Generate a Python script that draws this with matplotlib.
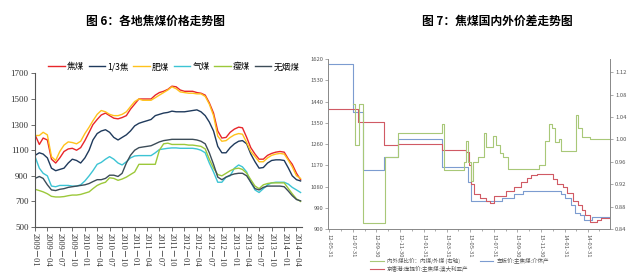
import matplotlib
matplotlib.use("Agg")
import matplotlib.pyplot as plt
import matplotlib.dates as mdates
import pandas as pd

plt.rcParams['font.family'] = ['Noto Sans CJK SC', 'DejaVu Sans']

# ---- 图6 data: monthly, 2009-01 .. 2014-05
months = pd.date_range("2009-01-01", periods=65, freq="MS")
jiaomei = [1220, 1145, 1195, 1180, 1030, 1000, 1040, 1090, 1110, 1115, 1100, 1120, 1175, 1240, 1300, 1340,
           1375, 1390, 1370, 1350, 1345, 1355, 1370, 1420, 1460, 1500, 1500, 1500, 1500, 1530, 1550, 1560,
           1575, 1600, 1595, 1570, 1560, 1560, 1560, 1550, 1545, 1530, 1470, 1390, 1250, 1195, 1200, 1240,
           1265, 1280, 1275, 1200, 1120, 1070, 1030, 1030, 1060, 1075, 1085, 1090, 1085, 1030, 990, 920, 870]
sanjiao = [1060, 1080, 1070, 1040, 960, 940, 950, 960, 1000, 1030, 1020, 1000, 1040, 1100, 1180, 1230,
           1250, 1260, 1240, 1200, 1180, 1200, 1220, 1250, 1290, 1310, 1320, 1330, 1340, 1370, 1380, 1390,
           1395, 1405, 1400, 1400, 1400, 1405, 1410, 1415, 1400, 1370, 1320, 1250, 1130, 1080, 1080, 1120,
           1150, 1170, 1175, 1150, 1070, 1010, 960, 965, 1000, 1020, 1025, 1025, 1020, 960, 900, 870, 860]
feimei = [1215, 1215, 1240, 1220, 1050, 1020, 1090, 1140, 1165, 1160, 1150, 1170, 1230, 1280, 1330, 1380,
          1410, 1400, 1380, 1370, 1370, 1380, 1400, 1440, 1480, 1500, 1490, 1490, 1490, 1510, 1530, 1550,
          1570, 1595, 1580, 1555, 1550, 1545, 1545, 1540, 1540, 1520, 1460, 1370, 1210, 1170, 1175, 1200,
          1220, 1230, 1225, 1160, 1090, 1050, 1010, 1010, 1040, 1060, 1070, 1075, 1070, 1020, 970, 900, 880]
qimei = [1050, 960, 920, 900, 820, 815, 825, 825, 825, 820, 820, 830, 860, 900, 940, 990,
         1005, 1030, 1050, 1030, 1000, 985, 1010, 1040, 1055, 1058, 1058, 1058, 1058, 1080, 1105, 1110,
         1115, 1118, 1118, 1115, 1115, 1115, 1115, 1110, 1100, 1080, 1000, 930, 850, 850, 890, 900,
         960, 985, 970, 930, 850, 790, 770, 800, 830, 845, 850, 850, 850, 835, 810, 790, 770]
shoumei = [795, 785, 775, 760, 740, 735, 735, 738, 745, 750, 750, 755, 765, 775, 800, 825,
           840, 850, 885, 880, 865, 875, 890, 910, 930, 990, 990, 990, 990, 990, 1100, 1150,
           1155, 1145, 1145, 1145, 1145, 1140, 1140, 1135, 1130, 1110, 1030, 960, 910, 900, 920, 940,
           955, 960, 950, 920, 870, 820, 800, 830, 840, 845, 845, 845, 845, 800, 760, 720, 700]
wuyanmei = [880, 895, 880, 830, 790, 785, 795, 800, 810, 815, 820, 825, 830, 840, 855, 870,
            870, 880, 905, 905, 895, 920, 1000, 1060, 1100, 1120, 1125, 1130, 1135, 1150, 1165, 1175,
            1180, 1185, 1185, 1185, 1185, 1185, 1185, 1180, 1170, 1150, 1080, 990, 890, 870, 890, 905,
            915, 920, 920, 900, 850, 800, 790, 810, 820, 820, 820, 820, 815, 780, 745, 715, 705]
left_names = ["焦煤", "1/3焦", "肥煤", "气煤", "瘦煤", "无烟煤"]
left_colors = ["#E8262A", "#1F3A5C", "#FFC21C", "#3CC4D4", "#9CC83A", "#3C4C58"]

# ---- 图7 data: step series
blue_dates = ["2012-05-31", "2012-08-01", "2012-08-28", "2012-10-20", "2012-11-25", "2013-03-20",
              "2013-05-25", "2013-06-01", "2013-08-20", "2013-09-20", "2013-10-15", "2014-01-20",
              "2014-02-01", "2014-02-15", "2014-02-25", "2014-03-10", "2014-03-20", "2014-04-10", "2014-05-25"]
blue_vals = [1600, 1395, 1150, 1205, 1280, 1162, 1100, 1020, 1030, 1050, 1060, 1050,
             1030, 1000, 970, 960, 940, 950, 950]
red_dates = ["2012-05-31", "2012-08-15", "2012-10-20", "2012-11-25", "2013-03-20", "2013-05-20",
             "2013-05-28", "2013-06-03", "2013-06-10", "2013-06-25", "2013-07-10", "2013-07-20",
             "2013-07-31", "2013-09-01", "2013-09-20", "2013-10-10", "2013-10-25", "2013-11-05",
             "2013-11-20", "2013-12-31", "2014-01-10", "2014-01-25", "2014-02-05", "2014-02-20",
             "2014-03-05", "2014-03-15", "2014-03-25", "2014-04-05", "2014-04-25", "2014-05-05", "2014-05-25"]
red_vals = [1410, 1355, 1255, 1262, 1235, 1225, 1170, 1090, 1050, 1030, 1020, 1012,
            1040, 1060, 1080, 1100, 1115, 1128, 1132, 1110, 1090, 1077, 1051, 1020,
            1000, 980, 960, 930, 940, 947, 947]
green_dates = ["2012-08-01", "2012-08-05", "2012-08-17", "2012-08-28", "2012-10-22", "2012-11-25",
               "2013-03-18", "2013-03-24", "2013-05-15", "2013-05-20", "2013-05-25", "2013-06-01",
               "2013-06-08", "2013-06-20", "2013-07-05", "2013-07-12", "2013-07-20", "2013-07-28",
               "2013-08-05", "2013-08-15", "2013-08-25", "2013-09-05", "2013-09-20", "2013-10-05",
               "2013-11-25", "2013-12-10", "2013-12-20", "2013-12-28", "2014-01-05", "2014-01-15",
               "2014-01-22", "2014-02-05", "2014-02-28", "2014-03-05", "2014-03-15", "2014-04-05",
               "2014-05-25"]
green_vals = [1.064, 0.99, 1.064, 0.85, 0.968, 1.012,
              1.028, 0.945, 0.96, 0.998, 0.96, 0.925,
              0.96, 0.968, 1.011, 0.986, 0.986, 1.007, 0.99,
              0.975, 0.968, 0.948, 0.948, 0.948,
              0.955, 0.998, 1.028, 1.02, 0.995, 1.0,
              0.98, 0.98, 1.043, 1.02, 1.004, 1.0, 1.0]
right_names = ["内外煤比价：内煤/外煤 (右轴)", "车板价:主焦煤:介休产", "京唐港:库提价:主焦煤:澳大利亚产"]

fig = plt.figure(figsize=(6.33, 2.8), dpi=100)

# ---------------- 图6
fig.text(0.245, 0.925, "图 6：各地焦煤价格走势图", ha="center", va="center", fontsize=8.5, fontweight="bold")
ax1 = fig.add_axes([0.055, 0.189, 0.422, 0.549])
series = [jiaomei, sanjiao, feimei, qimei, shoumei, wuyanmei]
for vals, name, c in zip(series, left_names, left_colors):
    ax1.plot(months, vals, color=c, lw=1.0, label=name)
ax1.set_ylim(500, 1700)
ax1.set_yticks(range(500, 1701, 200))
ax1.set_xlim(months[0] - pd.Timedelta(days=2), months[-1] + pd.Timedelta(days=10))
qticks = pd.date_range("2009-01-01", "2014-04-01", freq="3MS")
ax1.set_xticks(qticks)
ax1.set_xticklabels([d.strftime("%Y-%m").replace("-", "－") for d in qticks], rotation=270,
                    fontsize=6, family=["Liberation Serif", "Noto Sans CJK SC"])
for t in ax1.get_yticklabels():
    t.set_fontsize(6.5)
    t.set_family("Liberation Serif")
ax1.spines["top"].set_visible(False)
ax1.spines["right"].set_visible(False)
for s in ["left", "bottom"]:
    ax1.spines[s].set_color("#555555")
    ax1.spines[s].set_linewidth(0.8)
ax1.tick_params(axis="both", length=3, width=0.6, color="#555555", pad=1.5, labelcolor="#333333")
ax1.legend(loc="lower center", bbox_to_anchor=(0.52, 0.99), ncol=6, frameon=False, fontsize=6.2,
           handlelength=1.9, handletextpad=0.25, columnspacing=0.55, borderaxespad=0)

# ---------------- 图7
fig.text(0.785, 0.925, "图 7：焦煤国内外价差走势图", ha="center", va="center", fontsize=8.5, fontweight="bold")
ax2 = fig.add_axes([0.518, 0.182, 0.446, 0.607])
ax3 = ax2.twinx()
l2, = ax2.plot(pd.to_datetime(blue_dates), blue_vals, drawstyle="steps-post", color="#7C9CD0", lw=0.8)
l3, = ax2.plot(pd.to_datetime(red_dates), red_vals, drawstyle="steps-post", color="#D05A64", lw=0.8)
l1, = ax3.plot(pd.to_datetime(green_dates), green_vals, drawstyle="steps-post", color="#A8C878", lw=0.8)
ax2.set_ylim(900, 1620)
ax2.set_yticks(range(900, 1621, 90))
ax3.set_ylim(0.84, 1.1436)
ax3.set_yticks([0.84, 0.88, 0.92, 0.96, 1.00, 1.04, 1.08, 1.12])
ax3.set_yticklabels(["0.84", "0.88", "0.92", "0.96", "1.00", "1.04", "1.08", "1.12"])
ax2.set_xlim(pd.Timestamp("2012-05-28"), pd.Timestamp("2014-05-28"))
xt = pd.to_datetime(["2012-05-31", "2012-07-31", "2012-09-30", "2012-11-30", "2013-01-31", "2013-03-31",
                     "2013-05-31", "2013-07-31", "2013-09-30", "2013-11-30", "2014-01-31", "2014-03-31"])
ax2.set_xticks(xt)
ax2.set_xticklabels([d.strftime("%y-%m-%d") for d in xt], rotation=270, fontsize=4.2, color="#555555")
ax2.xaxis.set_minor_locator(mdates.MonthLocator(bymonthday=-1))
for a in (ax2, ax3):
    a.spines["top"].set_visible(False)
    for s in ["left", "right", "bottom"]:
        a.spines[s].set_color("#888888")
        a.spines[s].set_linewidth(0.6)
    a.tick_params(axis="both", which="both", length=2, width=0.5, color="#888888",
                  labelsize=4.2, labelcolor="#555555", pad=1.5)
ax2.tick_params(axis="x", which="minor", length=1.5)
fig.legend([l1, l3, l2], [right_names[0], right_names[2], right_names[1]], loc="upper left",
           bbox_to_anchor=(0.585, 0.08), ncol=2, frameon=False, fontsize=4.0, handlelength=2.5,
           handletextpad=0.5, columnspacing=2.0, labelspacing=0.35, borderaxespad=0, borderpad=0,
           labelcolor="#555555")

fig.savefig("out.png", dpi=100)
